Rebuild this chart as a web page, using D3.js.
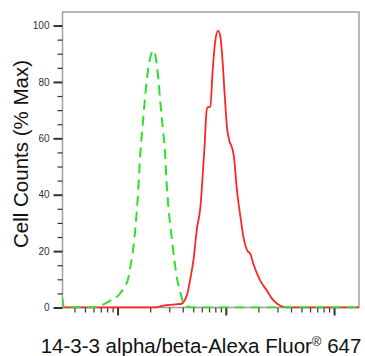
<!DOCTYPE html>
<html>
<head>
<meta charset="utf-8">
<script src="https://cdn.jsdelivr.net/npm/d3@7"></script>
<style>
  body { margin: 0; background: #fff; }
  svg { display: block; }
</style>
</head>
<body>
<div id="chart"></div>
<script>
// isotype control (green dashed), intensity vs % of max
var isoX = [31, 32, 60, 70, 86, 102, 116, 124, 132, 140, 153, 163, 172, 181, 193, 206, 217, 229, 239, 249, 263, 274, 283, 295, 315, 335, 357, 381, 406, 442, 491, 17000];
var isoY = [3.2, 0, 0, 0.7, 2.5, 4.3, 7.4, 9.6, 14.9, 21.3, 37.9, 55.7, 66.3, 75.9, 85.1, 90.1, 91.1, 86.9, 80.5, 72.3, 62.8, 55.7, 45.0, 35.5, 25.5, 16.7, 9.6, 5.3, 1.4, 0.4, 0, 0];

// 14-3-3 alpha/beta stained sample (red solid)
var sampleX = [31, 224, 266, 343, 395, 415, 439, 471, 502, 541, 582, 624, 641, 654, 675, 720, 756, 800, 848, 890, 923, 975, 1026, 1077, 1141, 1185, 1268, 1360, 1459, 1579, 1682, 1793, 1940, 2125, 2398, 2627, 2965, 3665, 17000];
var sampleY = [0, 0, 0.7, 1.1, 1.4, 2.5, 4.6, 10.3, 16.7, 28.0, 35.5, 52.1, 59.2, 66.3, 70.9, 71.3, 84.0, 94.7, 98.2, 96.1, 90.1, 75.9, 63.8, 59.2, 56.7, 53.9, 41.5, 32.6, 24.8, 20.2, 19.1, 15.6, 12.1, 8.9, 6.0, 3.5, 1.4, 0, 0];

var xDomain = [31, 17000];
var yDomain = [0, 104.8];
var yMajor = [0, 20, 40, 60, 80, 100];
var yMinor = [5, 10, 15, 25, 30, 35, 45, 50, 55, 65, 70, 75, 85, 90, 95];
var xMajor = [100, 1000, 10000];
var xMinor = [40, 50, 60, 70, 80, 90, 200, 300, 400, 500, 600, 700, 800, 900, 2000, 3000, 4000, 5000, 6000, 7000, 8000, 9000];

var xTitle = "14-3-3 alpha/beta-Alexa Fluor";
var yTitle = "Cell Counts (% Max)";

var W = 365, H = 356;
var margin = {top: 12, right: 6, bottom: 48.5, left: 62.5};
var width = W - margin.left - margin.right,
    height = H - margin.top - margin.bottom;

var svg = d3.select("#chart").append("svg")
    .attr("width", W)
    .attr("height", H);

var g = svg.append("g")
    .attr("transform", "translate(" + margin.left + "," + margin.top + ")");

var x = d3.scaleLog().domain(xDomain).range([0, width]);
var y = d3.scaleLinear().domain(yDomain).range([height, 0]);

g.append("clipPath").attr("id", "clip")
  .append("rect").attr("x", 0).attr("y", 0).attr("width", width).attr("height", height + 1);

// frame
g.append("rect")
    .attr("x", 0).attr("y", 0)
    .attr("width", width).attr("height", height)
    .attr("fill", "none")
    .attr("stroke", "#a0a0a0")
    .attr("stroke-width", 1.5);

// y axis
var yAxisMajor = g.append("g")
    .call(d3.axisLeft(y).tickValues(yMajor).tickSize(9).tickPadding(4));
yAxisMajor.select(".domain").remove();
yAxisMajor.selectAll("line").attr("stroke", "#333").attr("stroke-width", 2);
yAxisMajor.selectAll("text")
    .attr("fill", "#333")
    .style("font-family", "Liberation Sans, Arial, sans-serif")
    .style("font-size", "10px");

var yAxisMinor = g.append("g")
    .call(d3.axisLeft(y).tickValues(yMinor).tickSize(5).tickFormat(""));
yAxisMinor.select(".domain").remove();
yAxisMinor.selectAll("line").attr("stroke", "#333").attr("stroke-width", 1.2);

// x axis
var xAxisMajor = g.append("g")
    .attr("transform", "translate(0," + height + ")")
    .call(d3.axisBottom(x).tickValues(xMajor).tickSize(8).tickFormat(""));
xAxisMajor.select(".domain").remove();
xAxisMajor.selectAll("line").attr("stroke", "#333").attr("stroke-width", 2);

var xAxisMinor = g.append("g")
    .attr("transform", "translate(0," + height + ")")
    .call(d3.axisBottom(x).tickValues(xMinor).tickSize(5).tickFormat(""));
xAxisMinor.select(".domain").remove();
xAxisMinor.selectAll("line").attr("stroke", "#333").attr("stroke-width", 1.2);

// curves
var line = d3.line()
    .x(function(d) { return x(d[0]); })
    .y(function(d) { return y(d[1]); })
    .curve(d3.curveMonotoneX);

var sample = d3.zip(sampleX, sampleY);
var iso = d3.zip(isoX, isoY);

g.append("path")
    .datum(sample)
    .attr("clip-path", "url(#clip)")
    .attr("d", line)
    .attr("fill", "none")
    .attr("stroke", "#ff2424")
    .attr("stroke-width", 1.8);

g.append("path")
    .datum(iso)
    .attr("clip-path", "url(#clip)")
    .attr("d", line)
    .attr("fill", "none")
    .attr("stroke", "#2ee02e")
    .attr("stroke-width", 2)
    .attr("stroke-dasharray", "10,6");

// titles
var xt = svg.append("text")
    .attr("x", 201)
    .attr("y", 353)
    .attr("text-anchor", "middle")
    .style("font-family", "Liberation Sans, Arial, sans-serif")
    .style("font-size", "20.5px")
    .attr("fill", "#111");
xt.append("tspan").text(xTitle);
xt.append("tspan").attr("dy", -7).style("font-size", "13px").text("\u00AE");
xt.append("tspan").attr("dy", 7).text(" 647");

svg.append("text")
    .attr("transform", "translate(28,154) rotate(-90)")
    .attr("text-anchor", "middle")
    .style("font-family", "Liberation Sans, Arial, sans-serif")
    .style("font-size", "20.5px")
    .attr("fill", "#111")
    .text(yTitle);
</script>
</body>
</html>
